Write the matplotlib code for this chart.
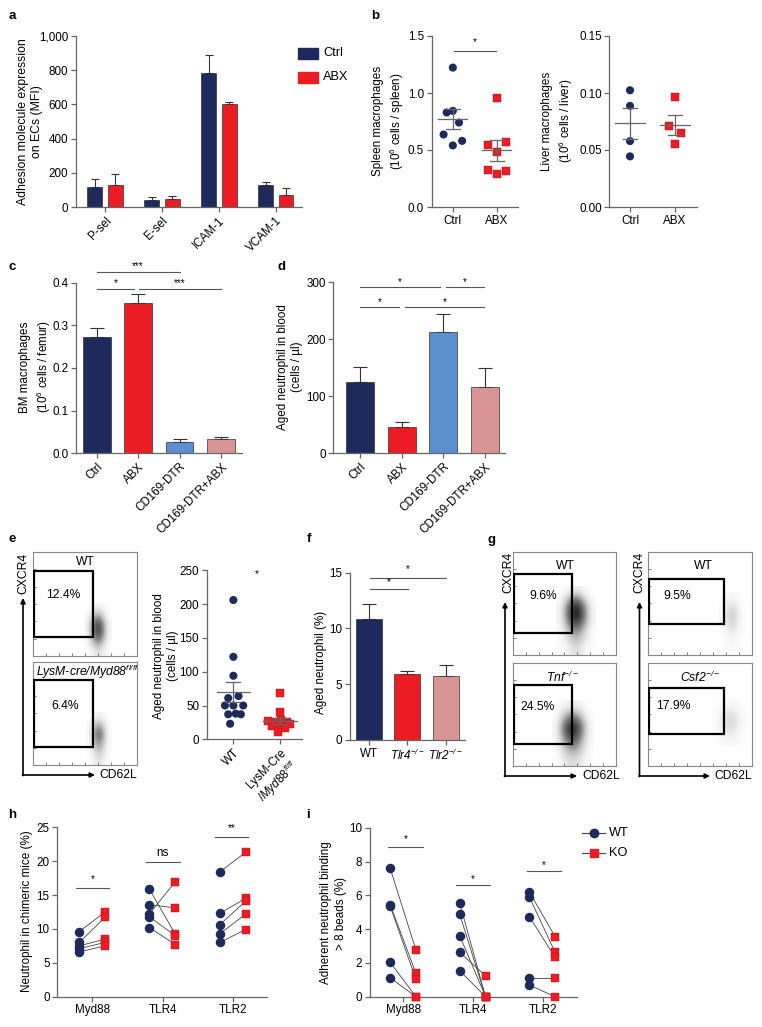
import matplotlib
matplotlib.use('Agg')
import matplotlib.pyplot as plt
import numpy as np
from matplotlib.patches import Rectangle

plt.rcParams['font.family'] = ['Liberation Sans', 'DejaVu Sans']
plt.rcParams['font.size'] = 8
plt.rcParams['mathtext.fontset'] = 'custom'
plt.rcParams['mathtext.rm'] = 'Liberation Sans'
plt.rcParams['mathtext.it'] = 'Liberation Sans:italic'
plt.rcParams['mathtext.default'] = 'regular'

# ---------------- data ----------------
a_groups = ['P-sel', 'E-sel', 'ICAM-1', 'VCAM-1']
a_ctrl = [118, 39, 783, 130]
a_ctrl_sem = [47, 20, 105, 17]
a_abx = [130, 47, 600, 72]
a_abx_sem = [65, 18, 15, 40]

b_groups = ['Ctrl', 'ABX']
b_spleen_ctrl = [1.223, 0.829, 0.843, 0.741, 0.636, 0.540, 0.580]
b_spleen_abx = [0.957, 0.540, 0.572, 0.479, 0.321, 0.286, 0.315]
b_liver_ctrl = [0.1024, 0.0887, 0.0578, 0.0444]
b_liver_abx = [0.0966, 0.0712, 0.0648, 0.0549]

cd_groups = ['Ctrl', 'ABX', 'CD169-DTR', 'CD169-DTR+ABX']
c_mean = [0.273, 0.352, 0.0266, 0.033]
c_sem = [0.0215, 0.021, 0.0064, 0.0045]
d_mean = [124.6, 46.8, 212.3, 116.4]
d_sem = [26.3, 8.8, 31.6, 32.6]

e_groups = ['WT', 'LysM-Cre\n/$\\mathit{Myd88}^{\\mathit{fl/fl}}$']
e_wt = [206, 122, 94, 61, 64, 50, 50, 50, 37, 38, 37, 23]
e_ko = [68, 41, 28, 27, 26, 25, 24, 22, 20, 19, 17, 11]

f_groups = ['WT', 'Tlr4$^{-/-}$', 'Tlr2$^{-/-}$']
f_mean = [10.85, 5.9, 5.75]
f_sem = [1.35, 0.3, 0.93]

hi_genes = ['Myd88', 'TLR4', 'TLR2']
h_wt = [[9.6, 8.0, 7.5, 7.1, 6.6], [15.9, 13.6, 12.2, 11.8, 10.2], [18.4, 12.3, 10.6, 9.25, 8.0]]
h_ko = [[12.5, 11.7, 8.5, 8.0, 7.5], [9.2, 13.1, 17.0, 9.0, 7.7], [21.3, 14.5, 14.1, 12.2, 9.9]]
i_wt = [[7.6, 5.45, 5.35, 2.03, 1.12], [5.52, 4.87, 3.6, 2.62, 1.54], [6.2, 5.9, 4.73, 1.12, 0.69]]
i_ko = [[2.76, 1.38, 1.03, 0, 0], [0, 0, 0, 1.24, 0], [3.55, 2.62, 2.33, 1.12, 0]]

# flow cytometry: gate labels and rough event-density grids
flow_pct = ['12.4%', '6.4%', '9.6%', '24.5%', '9.5%', '17.9%']
dens_e_top = [[0.00, 0.05, 0.10, 0.05, 0.00],
              [0.02, 0.25, 0.45, 0.20, 0.02],
              [0.05, 0.50, 0.80, 0.45, 0.05],
              [0.05, 0.55, 0.90, 0.55, 0.05],
              [0.05, 0.45, 0.75, 0.45, 0.05],
              [0.02, 0.25, 0.45, 0.25, 0.02],
              [0.00, 0.10, 0.20, 0.10, 0.00]]
dens_e_bot = [[0.00, 0.05, 0.08, 0.05, 0.00],
              [0.02, 0.30, 0.50, 0.25, 0.02],
              [0.05, 0.45, 0.75, 0.40, 0.03],
              [0.03, 0.35, 0.55, 0.30, 0.02],
              [0.02, 0.20, 0.35, 0.20, 0.02],
              [0.00, 0.10, 0.20, 0.10, 0.00]]
dens_g_tl = [[0.00, 0.05, 0.15, 0.05, 0.00],
             [0.03, 0.45, 0.85, 0.40, 0.03],
             [0.05, 0.70, 1.00, 0.70, 0.05],
             [0.05, 0.60, 0.95, 0.60, 0.05],
             [0.03, 0.35, 0.60, 0.35, 0.03],
             [0.02, 0.20, 0.40, 0.20, 0.02],
             [0.00, 0.10, 0.25, 0.10, 0.00]]
dens_g_bl = [[0.00, 0.05, 0.10, 0.05, 0.00],
             [0.03, 0.40, 0.70, 0.35, 0.02],
             [0.05, 0.75, 1.00, 0.70, 0.05],
             [0.05, 0.55, 0.85, 0.50, 0.03],
             [0.02, 0.30, 0.50, 0.30, 0.02],
             [0.00, 0.15, 0.25, 0.15, 0.00]]
dens_g_tr = [[0.00, 0.03, 0.05, 0.03, 0.00],
             [0.02, 0.15, 0.25, 0.15, 0.02],
             [0.03, 0.22, 0.35, 0.20, 0.02],
             [0.02, 0.15, 0.22, 0.12, 0.02],
             [0.01, 0.06, 0.10, 0.06, 0.01],
             [0.00, 0.03, 0.05, 0.03, 0.00]]
dens_g_br = [[0.00, 0.03, 0.05, 0.03, 0.00],
             [0.02, 0.12, 0.22, 0.12, 0.02],
             [0.02, 0.18, 0.30, 0.18, 0.02],
             [0.02, 0.12, 0.20, 0.12, 0.02],
             [0.00, 0.04, 0.06, 0.04, 0.00]]

# ---------------- style ----------------
W, H = 762, 1027
fig = plt.figure(figsize=(W / 100, H / 100), dpi=100)
NAVY = '#1e2a5c'
RED = '#ec1c24'
BLUE = '#5b8fd0'
PINK = '#d99494'
AXC = '#666666'
EDGE = '#333333'
TFS = 8.4
MS = 34

ov = fig.add_axes([0, 0, 1, 1])
ov.set_xlim(0, W)
ov.set_ylim(H, 0)
ov.axis('off')


def axpx(x0, y0, x1, y1):
    return fig.add_axes([x0 / W, 1 - y1 / H, (x1 - x0) / W, (y1 - y0) / H])


def prism(ax):
    for s in ['top', 'right']:
        ax.spines[s].set_visible(False)
    for s in ['left', 'bottom']:
        ax.spines[s].set_color(AXC)
        ax.spines[s].set_linewidth(0.9)
    ax.tick_params(color=AXC, length=3.5, width=0.9, labelsize=TFS, pad=2)
    ax.patch.set_alpha(0)


def sig(ax, x0, x1, y, txt, ty, fs=7):
    ax.plot([x0, x1], [y, y], color='#555555', lw=0.8, clip_on=False)
    ax.text((x0 + x1) / 2, ty, txt, ha='center', va='center', fontsize=fs, clip_on=False)


def ylab(x, y, txt, fs=8.4):
    ov.text(x, y, txt, rotation=90, ha='center', va='center', fontsize=fs, linespacing=1.25)


def panel(x, y, s):
    ov.text(x, y, s, ha='center', va='center', fontsize=9.5, fontweight='bold')


def dots(ax, xc, vals, dx, marker, color, mw, sw):
    x = np.full(len(vals), xc) + np.array(dx)
    ax.scatter(x, vals, s=MS if marker == 'o' else MS - 4, marker=marker, color=color,
               edgecolors='none' if marker == 'o' else '#b01218', linewidths=0.3,
               zorder=3, clip_on=False)
    m = np.mean(vals)
    se = np.std(vals, ddof=1) / np.sqrt(len(vals))
    c = '#666666'
    ax.plot([xc - mw, xc + mw], [m, m], color=c, lw=0.9, zorder=4)
    ax.plot([xc, xc], [m - se, m + se], color=c, lw=0.9, zorder=4)
    ax.plot([xc - sw, xc + sw], [m + se, m + se], color=c, lw=0.9, zorder=4)
    ax.plot([xc - sw, xc + sw], [m - se, m - se], color=c, lw=0.9, zorder=4)


# ---------------- a ----------------
ax = axpx(76, 36, 302, 207)
prism(ax)
xa = np.arange(len(a_groups))
bw = 0.26
ax.bar(xa - 0.18, a_ctrl, bw, color=NAVY, edgecolor=EDGE, lw=0.5, zorder=2)
ax.bar(xa + 0.18, a_abx, bw, color=RED, edgecolor=EDGE, lw=0.5, zorder=2)
ax.errorbar(xa - 0.18, a_ctrl, yerr=[np.zeros(4), a_ctrl_sem], fmt='none', ecolor=EDGE,
            elinewidth=0.8, capsize=2.8, capthick=0.8, zorder=1)
ax.errorbar(xa + 0.18, a_abx, yerr=[np.zeros(4), a_abx_sem], fmt='none', ecolor=EDGE,
            elinewidth=0.8, capsize=2.8, capthick=0.8, zorder=1)
ax.set_xlim(-0.51, 3.46)
ax.set_ylim(0, 1000)
ax.set_yticks([0, 200, 400, 600, 800, 1000])
ax.set_yticklabels(['0', '200', '400', '600', '800', '1,000'])
ax.set_xticks(xa)
ax.set_xticklabels(a_groups, rotation=45, ha='right', rotation_mode='anchor')
ylab(30, 122, 'Adhesion molecule expression\non ECs (MFI)', 8.8)
panel(12, 16, 'a')
ov.add_patch(Rectangle((298, 48), 20, 11, color=NAVY))
ov.add_patch(Rectangle((298, 72), 20, 11, color=RED))
ov.text(323, 53.5, 'Ctrl', va='center', fontsize=9.2)
ov.text(323, 77.5, 'ABX', va='center', fontsize=9.2)

# ---------------- b ----------------
ax = axpx(431.7, 36, 518, 207)
prism(ax)
dots(ax, 0, b_spleen_ctrl, [0, -0.14, 0, 0.14, -0.21, 0, 0.21], 'o', NAVY, 0.33, 0.16)
dots(ax, 1, b_spleen_abx, [0, -0.2, 0.21, 0, -0.2, 0, 0.21], 's', RED, 0.33, 0.16)
ax.set_xlim(-0.48, 1.48)
ax.set_ylim(0, 1.5)
ax.set_yticks([0, 0.5, 1.0, 1.5])
ax.set_yticklabels(['0.0', '0.5', '1.0', '1.5'])
ax.set_xticks([0, 1])
ax.set_xticklabels(b_groups)
sig(ax, 0.03, 0.98, 1.37, '*', 1.45)
ylab(389, 121, 'Spleen macrophages\n(10$^6$ cells / spleen)')
panel(375, 16, 'b')

ax = axpx(609.3, 36, 696.7, 207)
prism(ax)
dots(ax, 0, b_liver_ctrl, [0, 0, 0, 0], 'o', NAVY, 0.33, 0.16)
dots(ax, 1, b_liver_abx, [0, -0.13, 0.13, 0], 's', RED, 0.33, 0.16)
ax.set_xlim(-0.46, 1.48)
ax.set_ylim(0, 0.15)
ax.set_yticks([0, 0.05, 0.10, 0.15])
ax.set_yticklabels(['0.00', '0.05', '0.10', '0.15'])
ax.set_xticks([0, 1])
ax.set_xticklabels(b_groups)
ylab(558, 121, 'Liver macrophages\n(10$^6$ cells / liver)')

# ---------------- c ----------------
cols4 = [NAVY, RED, BLUE, PINK]
ax = axpx(76, 282.7, 241.7, 453.3)
prism(ax)
xc = np.arange(4)
ax.bar(xc, c_mean, 0.67, color=cols4, edgecolor=EDGE, lw=0.5, zorder=2)
ax.errorbar(xc, c_mean, yerr=[np.zeros(4), c_sem], fmt='none', ecolor=EDGE,
            elinewidth=0.8, capsize=5, capthick=0.8, zorder=1)
ax.set_xlim(-0.5, 3.5)
ax.set_ylim(0, 0.4)
ax.set_yticks([0, 0.1, 0.2, 0.3, 0.4])
ax.set_yticklabels(['0.0', '0.1', '0.2', '0.3', '0.4'])
ax.set_xticks(xc)
ax.set_xticklabels(cd_groups, rotation=45, ha='right', rotation_mode='anchor')
sig(ax, 0, 2, 0.425, '***', 0.44)
sig(ax, 0, 0.9, 0.385, '*', 0.40)
sig(ax, 1.03, 2.99, 0.385, '***', 0.40)
ylab(36, 367, 'BM macrophages\n(10$^6$ cells / femur)')
panel(12, 267, 'c')

# ---------------- d ----------------
ax = axpx(333.3, 282.3, 505, 453.3)
prism(ax)
ax.bar(xc, d_mean, 0.67, color=cols4, edgecolor=EDGE, lw=0.5, zorder=2)
ax.errorbar(xc, d_mean, yerr=[np.zeros(4), d_sem], fmt='none', ecolor=EDGE,
            elinewidth=0.8, capsize=5, capthick=0.8, zorder=1)
ax.set_xlim(-0.65, 3.49)
ax.set_ylim(0, 300)
ax.set_yticks([0, 100, 200, 300])
ax.set_xticks(xc)
ax.set_xticklabels(cd_groups, rotation=45, ha='right', rotation_mode='anchor')
sig(ax, 0, 1.92, 291, '*', 301)
sig(ax, 2.06, 2.99, 291, '*', 301)
sig(ax, 0, 0.93, 256, '*', 266)
sig(ax, 1.08, 2.99, 256, '*', 266)
ylab(290, 367, 'Aged neutrophil in blood\n(cells / µl)')
panel(281, 267, 'd')


# ---------------- flow plots ----------------
def flow(box, gate, title, txy, pct, pxy, cext, dens, vmax):
    ax = axpx(*box)
    ax.imshow(np.array(dens), cmap='Greys', vmin=0, vmax=vmax,
              extent=(cext[0], cext[2], cext[3], cext[1]), origin='upper',
              aspect='auto', interpolation='bicubic', zorder=1)
    ax.set_xlim(box[0], box[2])
    ax.set_ylim(box[3], box[1])
    ax.add_patch(Rectangle((gate[0], gate[1]), gate[2] - gate[0], gate[3] - gate[1],
                           fill=False, lw=1.6, ec='black', zorder=3))
    st = 'normal' if title == 'WT' else 'italic'
    ax.text(txy[0], txy[1], title, ha='center', va='center', fontsize=8.7, style=st, zorder=4)
    ax.text(pxy[0], pxy[1], pct, ha='center', va='center', fontsize=8.7, zorder=4)
    for s in ax.spines.values():
        s.set_color('#888888')
        s.set_linewidth(0.8)
    ax.set_xticks(np.linspace(box[0], box[2], 9)[1:-1])
    ax.set_yticks(np.linspace(box[1], box[3], 7)[1:-1])
    ax.tick_params(direction='in', length=2, width=0.6, color='#666666',
                   labelbottom=False, labelleft=False)
    return ax


flow((33, 552, 137, 656), (34.5, 570.7, 93.3, 636.7), 'WT', (85, 562), flow_pct[0], (63, 595),
     (84, 603, 112, 656), dens_e_top, 1.0)
flow((33, 662, 137, 765), (34.5, 680, 93.3, 746.7), 'LysM-cre/Myd88$^{fl/fl}$', (87, 672),
     flow_pct[1], (65, 706), (86, 712, 112, 765), dens_e_bot, 1.0)
flow((513, 552, 616, 655), (514.3, 574, 572.3, 633.3), 'WT', (565, 566), flow_pct[2], (543, 596),
     (556, 586, 596, 655), dens_g_tl, 1.0)
flow((513, 663, 616, 766), (514.3, 685, 572.3, 744), 'Tnf$^{-/-}$', (562, 677), flow_pct[3],
     (538, 707), (552, 700, 594, 766), dens_g_bl, 1.0)
flow((648, 552, 752, 655), (648.8, 579.3, 724.3, 624.3), 'WT', (703, 566), flow_pct[4], (677, 596),
     (718, 592, 746, 652), dens_g_tr, 1.0)
flow((648, 663, 752, 766), (648.8, 688.3, 724, 734), 'Csf2$^{-/-}$', (700, 677), flow_pct[5],
     (673, 706), (712, 698, 748, 746), dens_g_br, 1.0)

arr = dict(arrowstyle='-|>', lw=1.2, color='black', mutation_scale=7, shrinkA=0, shrinkB=0)
for (xv, ytop, xh_end, yb, cdx) in [(23, 598, 95, 775, 118), (505, 602, 577, 776, 601),
                                     (639.5, 602, 710, 776, 733)]:
    ov.annotate('', xy=(xv, ytop), xytext=(xv, yb + 0.6), arrowprops=arr)
    ov.annotate('', xy=(xh_end, yb), xytext=(xv - 0.6, yb), arrowprops=arr)
    ov.text(cdx, yb, 'CD62L', ha='center', va='center', fontsize=8.7)
for (xv, yc) in [(23.5, 573), (508.5, 572), (639.5, 572)]:
    ov.text(xv, yc, 'CXCR4', rotation=90, ha='center', va='center', fontsize=8.7)

# ---------------- e scatter ----------------
ax = axpx(206.7, 570.3, 301.7, 739.3)
prism(ax)
dots(ax, 0, e_wt, [0, 0, 0, -0.11, 0.11, -0.18, 0, 0.21, -0.11, 0.05, 0.16, -0.07],
     'o', NAVY, 0.36, 0.15)
dots(ax, 1, e_ko, [0, 0, 0.02, -0.25, 0.14, -0.1, 0.05, 0.2, -0.18, 0, 0.1, -0.05],
     's', RED, 0.36, 0.15)
ax.set_xlim(-0.57, 1.46)
ax.set_ylim(0, 250)
ax.set_yticks([0, 50, 100, 150, 200, 250])
ax.set_xticks([0, 1])
ax.set_xticklabels(e_groups, rotation=45, ha='right', rotation_mode='anchor')
ax.text(0.5, 245, '*', ha='center', va='center', fontsize=7, clip_on=False)
ylab(166, 656, 'Aged neutrophil in blood\n(cells / µl)')
panel(12, 539, 'e')

# ---------------- f ----------------
ax = axpx(350, 572.7, 465, 740)
prism(ax)
xf = np.arange(3)
ax.bar(xf, f_mean, 0.675, color=[NAVY, RED, PINK], edgecolor=EDGE, lw=0.5, zorder=2)
ax.errorbar(xf, f_mean, yerr=[np.zeros(3), f_sem], fmt='none', ecolor=EDGE,
            elinewidth=0.8, capsize=5, capthick=0.8, zorder=1)
ax.set_xlim(-0.49, 2.5)
ax.set_ylim(0, 15)
ax.set_yticks([0, 5, 10, 15])
ax.set_xticks(xf)
ax.set_xticklabels(f_groups)
for lbl in ax.get_xticklabels()[1:]:
    lbl.set_style('italic')
sig(ax, 0.03, 1.02, 13.5, '*', 14.2)
sig(ax, 0.03, 2.0, 14.5, '*', 15.3)
ylab(321, 662, 'Aged neutrophil (%)')
panel(309, 539, 'f')
panel(492, 540, 'g')


# ---------------- h / i ----------------
def paired(ax, wt, ko):
    for g in range(len(wt)):
        for a, b in zip(wt[g], ko[g]):
            ax.plot([g - 0.19, g + 0.18], [a, b], color='#444444', lw=0.6, zorder=2, clip_on=False)
        ax.scatter(np.full(len(wt[g]), g - 0.19), wt[g], s=MS, marker='o', color=NAVY,
                   zorder=3, clip_on=False)
        ax.scatter(np.full(len(ko[g]), g + 0.18), ko[g], s=MS - 4, marker='s', color=RED,
                   edgecolors='#b01218', linewidths=0.3, zorder=3, clip_on=False)


ax = axpx(57.3, 827.3, 266.7, 996.7)
prism(ax)
paired(ax, h_wt, h_ko)
ax.set_xlim(-0.5, 2.48)
ax.set_ylim(0, 25)
ax.set_yticks([0, 5, 10, 15, 20, 25])
ax.set_xticks([0, 1, 2])
ax.set_xticklabels(hi_genes)
sig(ax, -0.24, 0.24, 16.0, '*', 17.4)
sig(ax, 0.76, 1.24, 19.9, 'ns', 21.2, 8.4)
sig(ax, 1.74, 2.22, 23.6, '**', 24.9)
ylab(27, 911, 'Neutrophil in chimeric mice (%)')
panel(12, 815, 'h')

ax = axpx(370, 827.7, 576.7, 996.7)
prism(ax)
paired(ax, i_wt, i_ko)
ax.set_xlim(-0.48, 2.49)
ax.set_ylim(0, 10)
ax.set_yticks([0, 2, 4, 6, 8, 10])
ax.set_xticks([0, 1, 2])
ax.set_xticklabels(hi_genes)
sig(ax, -0.22, 0.28, 8.88, '*', 9.3)
sig(ax, 0.76, 1.24, 6.6, '*', 6.95)
sig(ax, 1.77, 2.26, 7.44, '*', 7.8)
ylab(333.5, 913, 'Adherent neutrophil binding\n> 8 beads (%)')
panel(308, 815, 'i')

ov.plot([582, 605], [833, 833], color='#444444', lw=0.8)
ov.plot([593.5], [833], marker='o', ms=6, color=NAVY)
ov.plot([582, 605], [853, 853], color='#444444', lw=0.8)
ov.plot([593.5], [853], marker='s', ms=5.5, color=RED)
ov.text(609, 833, 'WT', va='center', fontsize=9.2)
ov.text(609, 853, 'KO', va='center', fontsize=9.2)

fig.savefig('out.png', dpi=100)
